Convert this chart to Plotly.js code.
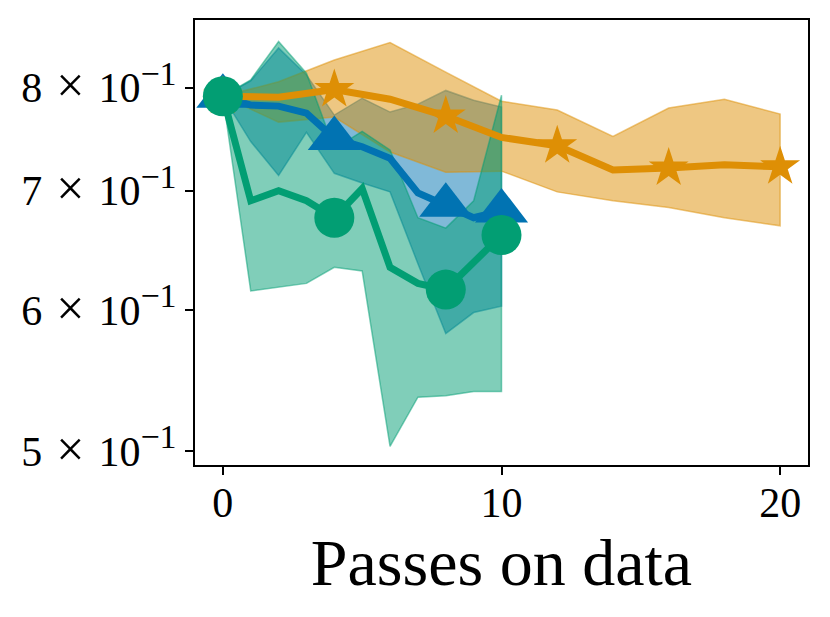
<!DOCTYPE html>
<html>
<head>
<meta charset="utf-8">
<script src="https://cdn.plot.ly/plotly-3.0.1.min.js"></script>
<style>
  html, body { margin: 0; padding: 0; background: #ffffff; }
  #chart { width: 830px; height: 617px; }
</style>
</head>
<body>
<div id="chart"></div>
<script>
// passes on data
const passesAll = [0, 1, 2, 3, 4, 5, 6, 7, 8, 9, 10];
const passesEven = [0, 2, 4, 6, 8, 10, 12, 14, 16, 18, 20];

// blue (triangles)
const blueMean = [0.791, 0.782, 0.781, 0.774, 0.749, 0.741, 0.730, 0.698, 0.687, 0.676, 0.682];
const blueHigh = [0.791, 0.807, 0.842, 0.813, 0.772, 0.789, 0.775, 0.783, 0.797, 0.787, 0.780];
const blueLow = [0.791, 0.746, 0.714, 0.755, 0.716, 0.707, 0.699, 0.637, 0.582, 0.598, 0.603];

// orange (stars)
const orangeMean = [0.791, 0.790, 0.798, 0.788, 0.771, 0.750, 0.742, 0.719, 0.721, 0.724, 0.722];
const orangeHigh = [0.791, 0.806, 0.829, 0.848, 0.816, 0.786, 0.777, 0.751, 0.779, 0.788, 0.773];
const orangeLow = [0.791, 0.765, 0.770, 0.736, 0.717, 0.718, 0.699, 0.691, 0.685, 0.676, 0.669];

// green (circles)
const greenMean = [0.791, 0.691, 0.700, 0.691, 0.676, 0.702, 0.634, 0.621, 0.616, 0.638, 0.661];
const greenHigh = [0.791, 0.808, 0.849, 0.815, 0.739, 0.756, 0.738, 0.676, 0.667, 0.691, 0.792];
const greenLow = [0.791, 0.615, 0.618, 0.621, 0.634, 0.631, 0.503, 0.536, 0.537, 0.540, 0.540];

const yTicks = [0.5, 0.6, 0.7, 0.8];
const yMantissa = ['5', '6', '7', '8'];
const xTicks = [0, 10, 20];

const COLORS = {
  blue: '#0173B2',
  blueBand: 'rgba(1, 115, 178, 0.5)',
  orange: '#DE8F05',
  orangeBand: 'rgba(222, 143, 5, 0.5)',
  green: '#029E73',
  greenBand: 'rgba(2, 158, 115, 0.5)'
};

const FONT = 'Liberation Serif, DejaVu Serif, serif';

// "m × 10^-1" in the look of a LaTeX label
const sciLabel = (m) => m + '\u2004<span style="font-size:50px">×</span>\u2004' +
  '10<sup><span style="font-size:34px">−1</span></sup>';

const band = (xs, high, low, color) => ({
  x: xs.concat(xs.slice().reverse()),
  y: high.concat(low.slice().reverse()),
  mode: 'lines',
  fill: 'toself',
  fillcolor: color,
  line: { color: color, width: 1.5 },
  hoverinfo: 'skip'
});

// marker on every 4th pass and on the last point
const markerSizes = (xs, size) => xs.map((x, i) => (x % 4 === 0 || i === xs.length - 1) ? size : 0);

const meanLine = (xs, ys, color, symbol, size) => ({
  x: xs,
  y: ys,
  mode: 'lines+markers',
  line: { color: color, width: 7 },
  marker: {
    color: color,
    symbol: symbol,
    size: markerSizes(xs, size),
    opacity: 1,
    line: { width: 0 }
  }
});

const traces = [
  band(passesAll, blueHigh, blueLow, COLORS.blueBand),
  band(passesEven, orangeHigh, orangeLow, COLORS.orangeBand),
  band(passesAll, greenHigh, greenLow, COLORS.greenBand),
  meanLine(passesAll, blueMean, COLORS.blue, 'triangle-up', 46),
  meanLine(passesEven, orangeMean, COLORS.orange, 'star', 30),
  meanLine(passesAll, greenMean, COLORS.green, 'circle', 40)
];

const layout = {
  width: 830,
  height: 617,
  margin: { l: 195, r: 22, t: 20, b: 152 },
  paper_bgcolor: '#ffffff',
  plot_bgcolor: '#ffffff',
  showlegend: false,
  font: { family: FONT, color: '#000000' },
  xaxis: {
    range: [-1, 21],
    tickvals: xTicks,
    ticktext: xTicks.map(String),
    ticks: 'outside',
    ticklen: 8,
    tickwidth: 2,
    tickcolor: '#000000',
    ticklabelstandoff: -8,
    showline: true,
    linewidth: 2,
    linecolor: '#000000',
    mirror: true,
    showgrid: false,
    zeroline: false,
    automargin: false,
    tickfont: { family: FONT, size: 42, color: '#000000' },
    title: { text: 'Passes on data', font: { family: FONT, size: 66, color: '#000000' }, standoff: 0 }
  },
  yaxis: {
    type: 'log',
    range: [Math.log10(0.491), Math.log10(0.873)],
    tickvals: yTicks,
    ticktext: yMantissa.map(sciLabel),
    ticks: 'outside',
    ticklen: 8,
    tickwidth: 2,
    tickcolor: '#000000',
    showline: true,
    linewidth: 2,
    linecolor: '#000000',
    mirror: true,
    showgrid: false,
    zeroline: false,
    automargin: false,
    tickfont: { family: FONT, size: 42, color: '#000000' }
  }
};

Plotly.newPlot('chart', traces, layout, { displayModeBar: false, staticPlot: true });
</script>
</body>
</html>
